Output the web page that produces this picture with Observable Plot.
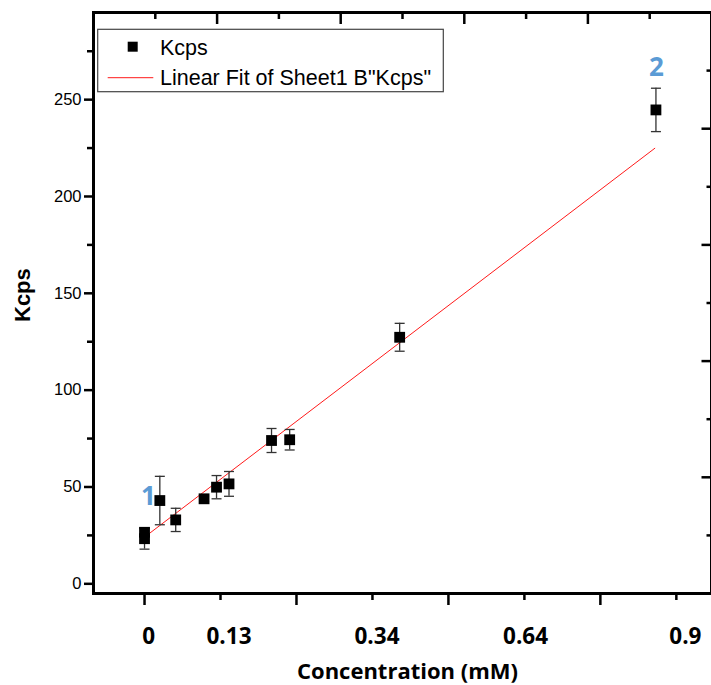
<!DOCTYPE html>
<html><head><meta charset="utf-8">
<script src="https://cdn.jsdelivr.net/npm/d3@7"></script>
<script src="https://cdn.jsdelivr.net/npm/@observablehq/plot@0.6"></script>
<style>body{margin:0;background:#fff;}</style>
</head><body><div id="chart"></div>
<script>
// ---- data ----
const concentration = [0, 0, 0.027, 0.055, 0.105, 0.127, 0.149, 0.224, 0.256, 0.45, 0.902];
const kcps          = [26.6, 23.3, 43.0, 33.0, 43.9, 49.9, 51.6, 74.0, 74.4, 127.3, 244.7];
const kcpsError     = [2.0, 5.4, 12.5, 6.0, 1.5, 6.0, 6.4, 6.2, 5.3, 7.2, 11.2];
const fitRange = [0, 0.9];
const fitIntercept = 24.1;
const fitSlope = 223.1;
const yTicks = [0, 50, 100, 150, 200, 250];
const yMinorTicks = [25, 75, 125, 175, 225, 275];
const xTickLabels = ["0", "0.13", "0.34", "0.64", "0.9"];
const xTickLabelPositions = [0.0075, 0.149, 0.410, 0.672, 0.954];
const xMajorTicks = [0, 0.268, 0.536, 0.804];
const xMinorTicks = [0.134, 0.402, 0.670, 0.938];
const xTopMajorTicks = [-0.09, 0.128, 0.346, 0.564, 0.782, 1.0];
const xTopMinorTicks = [0.019, 0.237, 0.455, 0.673, 0.891];
const yRightMajorTicks = [-5, 55, 115, 175, 235, 295];
const yRightMinorTicks = [25, 85, 145, 205, 265];
const annotationText = ["1", "2"];
const annotationX = [0.0067, 0.903];
const annotationY = [44.8, 266.3];
const xTitle = "Concentration (mM)";
const yTitle = "Kcps";
const legendLabels = ["Kcps", "Linear Fit of Sheet1 B''Kcps''"];

// ---- build ----
const points = concentration.map((c, i) => ({x: c, y: kcps[i], e: kcpsError[i]}));
const fit = fitRange.map(x => ({x, y: fitIntercept + fitSlope * x}));
const labelRows = xTickLabels.map((t, i) => ({x: xTickLabelPositions[i], t}));
const annRows = annotationText.map((t, i) => ({x: annotationX[i], y: annotationY[i], t}));

const hSeg = w => ({draw(ctx) { ctx.moveTo(-w, 0); ctx.lineTo(w, 0); }});
const downTick = len => ({draw(ctx) { ctx.moveTo(0, 0); ctx.lineTo(0, len); }});
const leftTick = len => ({draw(ctx) { ctx.moveTo(0, 0); ctx.lineTo(-len, 0); }});

const calibri = "'Open Sans', 'Noto Sans', sans-serif";
const arial = "'Liberation Sans', Arial, sans-serif";

const chart = Plot.plot({
  width: 711, height: 685,
  marginLeft: 93, marginRight: 0, marginTop: 12, marginBottom: 92,
  style: {fontFamily: arial, background: "white", color: "black"},
  x: {domain: [-0.09, 1.0], axis: null},
  y: {domain: [-5, 295], axis: null},
  marks: [
    // fit line
    Plot.line(fit, {x: "x", y: "y", stroke: "#ff1a1a", strokeWidth: 1}),
    // error bars
    Plot.ruleX(points, {x: "x", y1: d => d.y - d.e, y2: d => d.y + d.e, stroke: "#333", strokeWidth: 1.3}),
    Plot.dot(points, {x: "x", y: d => d.y + d.e, symbol: hSeg(5), fill: "none", stroke: "#333", strokeWidth: 1.3}),
    Plot.dot(points, {x: "x", y: d => d.y - d.e, symbol: hSeg(5), fill: "none", stroke: "#333", strokeWidth: 1.3}),
    // points
    Plot.dot(points, {x: "x", y: "y", symbol: "square", r: 6.1, fill: "black", stroke: "none"}),
    // annotations
    Plot.text(annRows, {x: "x", y: "y", text: "t", fill: "#5B9BD5", fontWeight: "bold", fontSize: 26, fontFamily: calibri, lineAnchor: "middle"}),
    // left axis
    Plot.axisY({ticks: yTicks, tickSize: 9, tickPadding: 3, strokeWidth: 2.5, fontSize: 16.5, fontFamily: arial, label: null}),
    Plot.axisY({ticks: yMinorTicks, tickSize: 6, tickFormat: () => "", strokeWidth: 2.5, label: null}),
    // bottom ticks
    Plot.axisX({ticks: xMajorTicks, tickSize: 12, tickFormat: () => "", strokeWidth: 2.5, label: null}),
    Plot.axisX({ticks: xMinorTicks, tickSize: 7, tickFormat: () => "", strokeWidth: 2.5, label: null}),
    Plot.text(labelRows, {x: "x", text: "t", frameAnchor: "bottom", dy: 43, lineAnchor: "middle", fontSize: 22.5, fontWeight: "bold", fontFamily: calibri}),
    // top inward ticks
    Plot.dot(xTopMajorTicks, {x: d => d, frameAnchor: "top", symbol: downTick(11.5), fill: "none", stroke: "black", strokeWidth: 2.5}),
    Plot.dot(xTopMinorTicks, {x: d => d, frameAnchor: "top", symbol: downTick(6.5), fill: "none", stroke: "black", strokeWidth: 2.5}),
    // right inward ticks
    Plot.dot(yRightMajorTicks, {y: d => d, frameAnchor: "right", symbol: leftTick(10), fill: "none", stroke: "black", strokeWidth: 2.5}),
    Plot.dot(yRightMinorTicks, {y: d => d, frameAnchor: "right", symbol: leftTick(5), fill: "none", stroke: "black", strokeWidth: 2.5}),
    // titles
    Plot.text([xTitle], {frameAnchor: "bottom", dx: 5, dy: 78, lineAnchor: "middle", fontSize: 22, fontWeight: "bold", fontFamily: calibri}),
    Plot.text([yTitle], {frameAnchor: "left", dx: -71, dy: 19, rotate: -90, lineAnchor: "middle", fontSize: 22, fontWeight: "bold", fontFamily: arial}),
    Plot.frame({stroke: "black", strokeWidth: 3})
  ]
});
document.getElementById("chart").appendChild(chart);

// legend box
const svg = d3.select(chart);
const lg = svg.append("g").attr("font-family", arial).attr("font-size", 21.5).attr("text-anchor", "start");
lg.append("rect").attr("x", 97.7).attr("y", 29.3).attr("width", 345.6).attr("height", 62.4)
  .attr("fill", "white").attr("stroke", "#444").attr("stroke-width", 1.2);
lg.append("rect").attr("x", 127.7).attr("y", 41.7).attr("width", 10).attr("height", 10).attr("fill", "black");
lg.append("text").attr("x", 160).attr("y", 54.5).attr("text-anchor", "start").text(legendLabels[0]);
lg.append("line").attr("x1", 107.7).attr("x2", 153.3).attr("y1", 77.7).attr("y2", 77.7).attr("stroke", "#ff1a1a").attr("stroke-width", 1);
lg.append("text").attr("x", 160).attr("y", 85).attr("text-anchor", "start").text(legendLabels[1].replace(/''/g, '"'));
</script>
</body></html>
